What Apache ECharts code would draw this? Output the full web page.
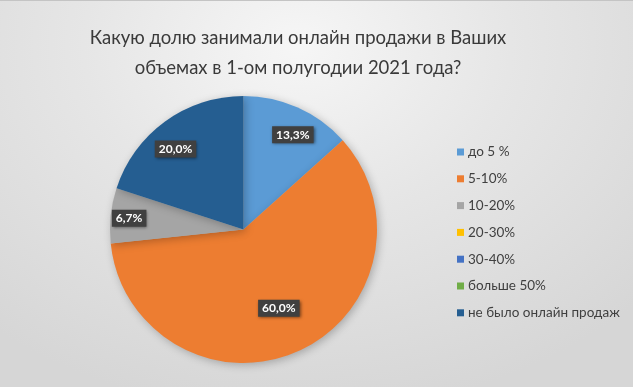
<!DOCTYPE html>
<html>
<head>
<meta charset="utf-8">
<script src="https://cdn.jsdelivr.net/npm/echarts@6/dist/echarts.min.js"></script>
<style>
html,body{margin:0;padding:0;}
#chart{width:633px;height:387px;background:radial-gradient(ellipse 75% 95% at 47% 12%, #f6f6f6 0%, #e6e6e6 45%, #d6d6d6 100%);box-shadow:inset 0 1px 0 #c4c4c4;}
</style>
</head>
<body>
<div id="chart"></div>
<script>
const titleText = 'Какую долю занимали онлайн продажи в Ваших\nобъемах в 1-ом полугодии 2021 года?';
const categories = ['до 5 %', '5-10%', '10-20%', '20-30%', '30-40%', 'больше 50%', 'не было онлайн продаж'];
const respondents = [2, 9, 1, 0, 0, 0, 3];
const colors = ['#5B9BD5', '#ED7D31', '#A5A5A5', '#FFC000', '#4472C4', '#70AD47', '#255E91'];
const labelOffsets = [[21, -31], [7, 15], [-45, -4], [0, 0], [0, 0], [0, 0], [-27, -24]];

const chart = echarts.init(document.getElementById('chart'), null, {renderer: 'canvas'});
const total = respondents.reduce((a, b) => a + b, 0);
const data = categories.map((c, i) => ({
  name: c,
  value: respondents[i],
  label: respondents[i] === 0 ? {show: false} : {offset: labelOffsets[i]},
  labelLine: {show: false}
}));

chart.setOption({
  color: colors,
  title: {
    text: titleText,
    left: 293,
    top: 18,
    textAlign: 'center',
    textStyle: {fontFamily: 'Lato', fontSize: 18.5, fontWeight: 'normal', color: '#3a3a3a', lineHeight: 30}
  },
  legend: {
    orient: 'vertical',
    left: 452,
    top: 140,
    itemWidth: 7,
    itemHeight: 7,
    itemGap: 12.8,
    icon: 'rect',
    textStyle: {fontFamily: 'Lato', fontSize: 13.5, color: '#404040', padding: [0, 0, 0, -1]},
    data: categories
  },
  series: [{
    type: 'pie',
    center: [243.5, 229.5],
    radius: [0, 133.5],
    startAngle: 90,
    clockwise: true,
    avoidLabelOverlap: false,
    stillShowZeroSum: true,
    itemStyle: {shadowBlur: 8, shadowColor: 'rgba(0,0,0,0.25)', shadowOffsetX: 2, shadowOffsetY: 2},
    label: {
      show: true,
      position: 'inside',
      formatter: p => (p.value / total * 100).toFixed(1).replace('.', ',') + '%',
      color: '#ffffff',
      fontFamily: 'Lato',
      fontWeight: 'bold',
      fontSize: 12,
      backgroundColor: '#404040',
      padding: [3, 4, 2, 4],
      shadowBlur: 3,
      shadowColor: 'rgba(0,0,0,0.5)',
      shadowOffsetX: 1,
      shadowOffsetY: 1
    },
    labelLine: {show: false},
    emphasis: {disabled: true},
    animation: false,
    data: data
  }]
});
</script>
</body>
</html>
